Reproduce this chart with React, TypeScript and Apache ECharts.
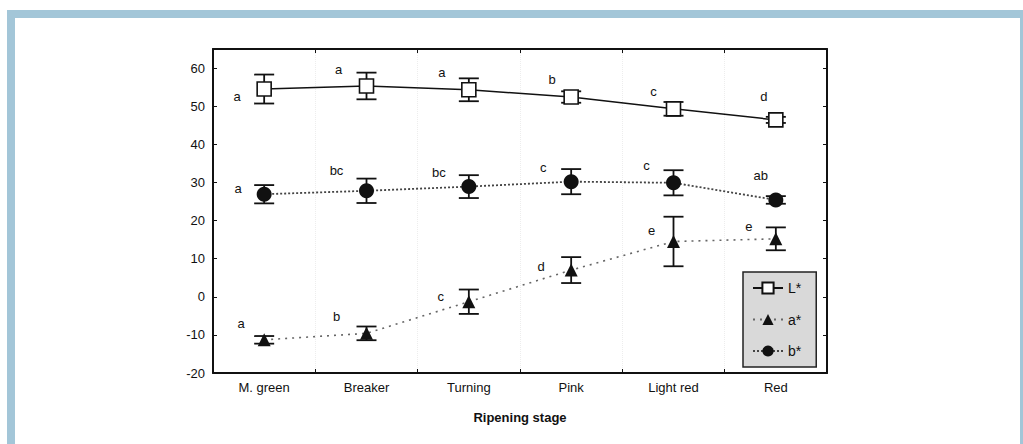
import React, { useEffect, useRef } from "react";
import * as echarts from "echarts";

const stages = ["M. green", "Breaker", "Turning", "Pink", "Light red", "Red"];
const yTicks = [-20, -10, 0, 10, 20, 30, 40, 50, 60];

const lMean = [54.5, 55.3, 54.3, 52.4, 49.3, 46.4];
const lErr = [3.8, 3.5, 3.0, 1.5, 1.8, 0.8];
const lLetters = ["a", "a", "a", "b", "c", "d"];

const aMean = [-11.3, -9.6, -1.3, 7.0, 14.5, 15.2];
const aErr = [1.0, 1.8, 3.2, 3.4, 6.5, 3.0];
const aLetters = ["a", "b", "c", "d", "e", "e"];

const bMean = [26.9, 27.8, 28.9, 30.2, 29.9, 25.4];
const bErr = [2.4, 3.2, 3.0, 3.3, 3.3, 1.0];
const bLetters = ["a", "bc", "bc", "c", "c", "ab"];

// label placement (style): offsets of label centre from point
const lOff = [[-27, 8], [-28, -16], [-27, -17], [-19, -17], [-20, -17], [-12, -23]];
const aOff = [[-23, -17], [-30, -17], [-28, -6], [-30, -4], [-22, -11], [-27, -13]];
const bOff = [[-26, -6], [-30, -21], [-30, -15], [-28, -15], [-27, -18], [-15, -25]];

const FONT = "'Liberation Sans', Arial, sans-serif";

function withLabels(vals: number[], letters: string[], offs: number[][], size: number) {
  return vals.map((v, i) => ({
    value: v,
    label: {
      show: true,
      position: "top",
      distance: 0,
      formatter: letters[i],
      offset: [offs[i][0], offs[i][1] + size / 2 + 7],
      color: "#111111",
      textBorderWidth: 0,
      fontSize: 13,
      fontFamily: FONT,
    },
  }));
}

function errData(mean: number[], err: number[]) {
  return mean.map((m, i) => [i, m - err[i], m + err[i]]);
}

const renderErr = (params: any, api: any) => {
  const x = api.value(0);
  const top = api.coord([x, api.value(2)]);
  const bot = api.coord([x, api.value(1)]);
  const w = 10;
  const st = { stroke: "#111", lineWidth: 1.8 };
  return {
    type: "group",
    children: [
      { type: "line", shape: { x1: top[0], y1: top[1], x2: bot[0], y2: bot[1] }, style: st },
      { type: "line", shape: { x1: top[0] - w, y1: top[1], x2: top[0] + w, y2: top[1] }, style: st },
      { type: "line", shape: { x1: bot[0] - w, y1: bot[1], x2: bot[0] + w, y2: bot[1] }, style: st },
    ],
  };
};

export default function App() {
  const ref = useRef<HTMLDivElement>(null);
  useEffect(() => {
    if (!ref.current) return;
    const chart = echarts.init(ref.current, null, { renderer: "svg" });
    const frame = "#a3c6d8";
    const yAxisBase = {
      type: "value",
      min: -20,
      max: 65,
      interval: 10,
      axisLine: { show: true, onZero: false, lineStyle: { color: "#111", width: 2 } },
      axisTick: { show: true, inside: true, length: 4, lineStyle: { color: "#111" } },
      splitLine: { show: false },
    };
    chart.setOption({
      animation: false,
      backgroundColor: "#fff",
      graphic: [
        { type: "rect", shape: { x: 7, y: 10, width: 8, height: 434 }, style: { fill: frame } },
        { type: "rect", shape: { x: 7, y: 10, width: 1016, height: 8 }, style: { fill: frame } },
        { type: "rect", shape: { x: 1020, y: 10, width: 3, height: 434 }, style: { fill: frame } },
      ],
      grid: { left: 213, top: 49, right: 196, bottom: 71 },
      legend: {
        orient: "vertical",
        left: 743,
        top: 272,
        data: ["L*", "a*", "b*"],
        backgroundColor: "#d9d9d9",
        borderColor: "#222",
        borderWidth: 1.5,
        borderRadius: 0,
        padding: [9, 15, 9, 9],
        itemWidth: 30,
        itemHeight: 14,
        itemGap: 17.5,
        textStyle: { fontSize: 14, color: "#111", fontFamily: FONT },
      },
      xAxis: [
        {
          type: "category",
          data: stages,
          boundaryGap: true,
          position: "bottom",
          axisLine: { show: true, onZero: false, lineStyle: { color: "#111", width: 2 } },
          axisTick: { show: true, inside: true, length: 4, lineStyle: { color: "#111" } },
          axisLabel: { color: "#111", fontSize: 13, margin: 8, fontFamily: FONT },
          splitLine: { show: true, lineStyle: { color: "#ededed", type: "dotted" } },
          name: "Ripening stage",
          nameLocation: "middle",
          nameGap: 38,
          nameTextStyle: { color: "#111", fontSize: 13, fontWeight: "bold", fontFamily: FONT },
        },
        {
          type: "category",
          data: stages,
          boundaryGap: true,
          position: "top",
          axisLine: { show: true, onZero: false, lineStyle: { color: "#111", width: 2 } },
          axisTick: { show: true, inside: true, length: 4, lineStyle: { color: "#111" } },
          axisLabel: { show: false },
          splitLine: { show: false },
        },
      ],
      yAxis: [
        {
          ...yAxisBase,
          position: "left",
          axisLabel: {
            color: "#111",
            fontSize: 13,
            margin: 8,
            fontFamily: FONT,
            formatter: (v: number) => (yTicks.indexOf(v) >= 0 ? String(v) : ""),
          },
        },
        { ...yAxisBase, position: "right", axisLabel: { show: false } },
      ],
      series: [
        { type: "custom", renderItem: renderErr, data: errData(lMean, lErr), z: 3, silent: true },
        { type: "custom", renderItem: renderErr, data: errData(aMean, aErr), z: 3, silent: true },
        { type: "custom", renderItem: renderErr, data: errData(bMean, bErr), z: 3, silent: true },
        {
          name: "L*",
          type: "line",
          data: withLabels(lMean, lLetters, lOff, 14),
          symbol: "rect",
          symbolSize: 14,
          lineStyle: { color: "#111", width: 1.5, type: "solid" },
          itemStyle: { color: "#fff", borderColor: "#111", borderWidth: 1.6 },
          z: 5,
        },
        {
          name: "a*",
          type: "line",
          data: withLabels(aMean, aLetters, aOff, 13),
          symbol: "triangle",
          symbolSize: 13,
          lineStyle: { color: "#666", width: 1.6, type: [2, 5] },
          itemStyle: { color: "#111", borderColor: "#111", borderWidth: 0 },
          z: 5,
        },
        {
          name: "b*",
          type: "line",
          data: withLabels(bMean, bLetters, bOff, 15),
          symbol: "circle",
          symbolSize: 15,
          lineStyle: { color: "#444", width: 1.8, type: [2, 2] },
          itemStyle: { color: "#111", borderColor: "#111", borderWidth: 0 },
          z: 5,
        },
      ],
    });
    return () => chart.dispose();
  }, []);
  return (
    <div
      ref={ref}
      style={{ position: "absolute", left: 0, top: 0, width: 1023, height: 444 }}
    />
  );
}
